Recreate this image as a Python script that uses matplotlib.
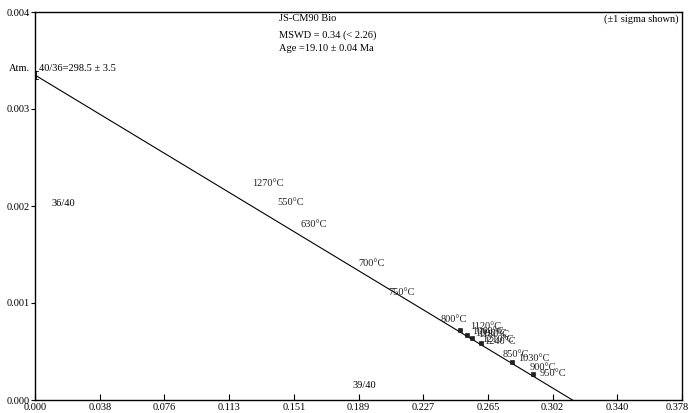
import matplotlib.pyplot as plt
from matplotlib.transforms import ScaledTranslation

plt.rcParams['font.family'] = ['Liberation Serif', 'DejaVu Serif']

# isochron fit
y_intercept = 1 / 298.5          # 36/40 at 39/40 = 0
x_intercept = 0.314              # 39/40 at 36/40 = 0

# step labels (temperature, 39/40, 36/40 of label anchor)
step_labels = ["1270°C", "550°C", "630°C", "700°C", "750°C", "800°C",
               "1120°C", "1060°C", "1090°C", "1180°C", "1210°C", "1240°C",
               "850°C", "1030°C", "900°C", "950°C"]
step_x = [0.1268, 0.1414, 0.1554, 0.1887, 0.2062, 0.2372,
          0.2541, 0.2553, 0.2570, 0.2588, 0.2612, 0.2626,
          0.2734, 0.2822, 0.2892, 0.2950]
step_y = [0.002227, 0.002041, 0.001814, 0.001412, 0.001113, 0.000835,
          0.000753, 0.000706, 0.000690, 0.000680, 0.000619, 0.000602,
          0.000464, 0.000423, 0.000340, 0.000278]

# visible data points
pt_x = [0.2483, 0.2524, 0.2553, 0.2606, 0.2787, 0.2909]
pt_y = [0.000722, 0.000670, 0.000639, 0.000588, 0.000392, 0.000268]

xticks = [i * 0.0378 for i in range(11)]
yticks = [0.0, 0.001, 0.002, 0.003, 0.004]

fig = plt.figure(figsize=(6.89, 4.13), dpi=100)
ax = fig.add_axes([35 / 689, 1 - 400 / 413, 647 / 689, 388 / 413])
ax.set_xlim(0, 0.378)
ax.set_ylim(0, 0.004)

ax.plot([0, x_intercept], [y_intercept, 0], color='black', lw=0.8)
ax.plot(pt_x, pt_y, 's', color='#222222', ms=2.2, mec='black', mew=0.4)
# atmospheric ratio marker
ax.plot([0.0005, 0.0005], [y_intercept - 0.00004, y_intercept + 0.00004],
        color='black', lw=0.6)
ax.plot([0, 0.002], [y_intercept + 0.00004, y_intercept + 0.00004], color='black', lw=0.6)
ax.plot([0, 0.002], [y_intercept - 0.00004, y_intercept - 0.00004], color='black', lw=0.6)

for lab, x, y in zip(step_labels, step_x, step_y):
    ax.text(x, y, lab, fontsize=7.5, ha='left', va='center', color='#222222')

fs = 7.5
ax.text(0.377, 0.982, "JS-CM90 Bio", transform=ax.transAxes, fontsize=fs, va='center')
ax.text(0.377, 0.941, "MSWD = 0.34 (< 2.26)", transform=ax.transAxes, fontsize=fs, va='center')
ax.text(0.377, 0.905, "Age =19.10 ± 0.04 Ma", transform=ax.transAxes, fontsize=fs, va='center')
ax.text(0.995, 0.982, "(±1 sigma shown)", transform=ax.transAxes, fontsize=fs,
        va='center', ha='right')
ax.text(-0.003, y_intercept + 0.00007, "Atm.", fontsize=fs, ha='right', va='center')
ax.text(0.0025, y_intercept + 0.00007, "40/36=298.5 ± 3.5", fontsize=fs, ha='left', va='center')
ax.text(0.0095, 0.00203, "36/40", fontsize=fs, ha='left', va='center')
ax.text(0.1922, 0.00015, "39/40", fontsize=fs, ha='center', va='center')

ax.set_xticks(xticks)
ax.set_xticklabels([f"{t:.3f}" for t in xticks])
ax.set_yticks(yticks)
ax.set_yticklabels([f"{t:.3f}" for t in yticks])
ax.tick_params(axis='x', direction='in', length=4, pad=2, labelsize=fs)
ax.tick_params(axis='y', direction='out', length=3, pad=1, labelsize=fs)
for s in ax.spines.values():
    s.set_linewidth(1.0)

# keep the last x tick label inside the figure
last = ax.get_xticklabels()[-1]
last.set_transform(last.get_transform() + ScaledTranslation(-0.05, 0, fig.dpi_scale_trans))

fig.savefig("out.png", dpi=100)
